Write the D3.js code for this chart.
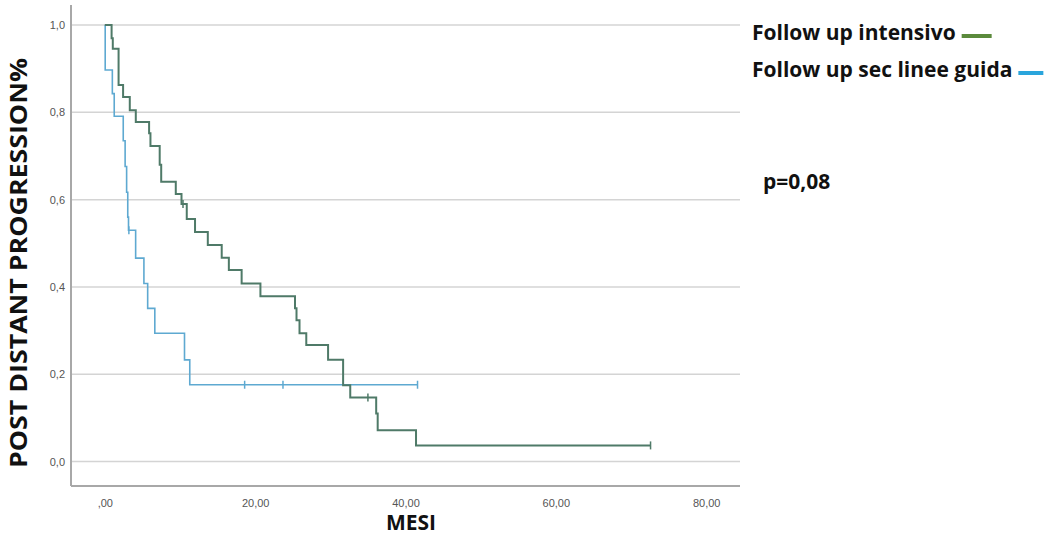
<!DOCTYPE html>
<html>
<head>
<meta charset="utf-8">
<script src="https://cdn.jsdelivr.net/npm/d3@7"></script>
<style>
  body { margin: 0; background: #fff; }
  svg { display: block; }
  .tick text { fill: #555; font-family: "Liberation Sans", Arial, sans-serif; font-size: 11px; }
  .lbl { font-family: "Open Sans", sans-serif; font-weight: bold; fill: #111; }
</style>
</head>
<body>
<svg id="chart" width="1051" height="535"></svg>
<script>
// ========= Data
// Follow up intensivo: [months, survival] at each step
const intensivoSteps = [
  [0, 1.0], [0.9, 0.97], [1.06, 0.946], [1.83, 0.863], [2.43, 0.835], [3.32, 0.805],
  [4.12, 0.778], [5.89, 0.752], [6.07, 0.723], [7.3, 0.68], [7.5, 0.641], [9.44, 0.613],
  [10.2, 0.59], [10.9, 0.556], [12.0, 0.526], [13.7, 0.496], [15.55, 0.467],
  [16.5, 0.439], [18.2, 0.408], [20.7, 0.379], [25.3, 0.351], [25.5, 0.324],
  [25.9, 0.294], [26.8, 0.267], [29.7, 0.233], [31.7, 0.175], [32.65, 0.147],
  [36.1, 0.11], [36.3, 0.072], [41.4, 0.037], [72.6, 0.037]
];
const intensivoCensored = [[10.4, 0.59], [35.0, 0.147], [72.6, 0.037]];

// Follow up sec linee guida
const lineeGuidaSteps = [
  [0, 1.0], [0.05, 0.897], [1.0, 0.843], [1.25, 0.791], [2.45, 0.735], [2.7, 0.676],
  [2.9, 0.617], [3.05, 0.56], [3.15, 0.53], [4.1, 0.466], [5.2, 0.408], [5.7, 0.351],
  [6.65, 0.294], [10.6, 0.233], [11.3, 0.176], [41.6, 0.176]
];
const lineeGuidaCensored = [[3.2, 0.53], [18.6, 0.176], [23.7, 0.176], [41.6, 0.176]];

const xTicks = [0, 20, 40, 60, 80];
const xTickLabels = [",00", "20,00", "40,00", "60,00", "80,00"];
const yTicks = [0, 0.2, 0.4, 0.6, 0.8, 1.0];
const yTickLabels = ["0,0", "0,2", "0,4", "0,6", "0,8", "1,0"];

const legendItems = [
  { label: "Follow up intensivo", color: "#5b8a3c", len: 30 },
  { label: "Follow up sec linee guida", color: "#2aa5dc", len: 25 }
];

// ========= Setup
const svg = d3.select("#chart");
const frame = { left: 71, right: 740, top: 5, bottom: 486 };

const x = d3.scaleLinear().domain([-4.5, 84.5]).range([frame.left, frame.right]);
const y = d3.scaleLinear().domain([-0.056, 1.046]).range([frame.bottom, frame.top]);

// gridlines
svg.append("g")
  .selectAll("line")
  .data(yTicks)
  .enter().append("line")
  .attr("x1", frame.left).attr("x2", frame.right)
  .attr("y1", d => y(d)).attr("y2", d => y(d))
  .attr("stroke", "#d4d4d4").attr("stroke-width", 1.5);

// axes
const xAxis = svg.append("g")
  .attr("transform", `translate(0,${frame.bottom})`)
  .call(d3.axisBottom(x).tickValues(xTicks).tickSize(0).tickPadding(13)
    .tickFormat((d, i) => xTickLabels[i]));
xAxis.select(".domain").remove();

const yAxis = svg.append("g")
  .attr("transform", `translate(${frame.left},0)`)
  .call(d3.axisLeft(y).tickValues(yTicks).tickSize(0).tickPadding(6)
    .tickFormat((d, i) => yTickLabels[i]));
yAxis.select(".domain").remove();

svg.append("line")
  .attr("x1", frame.left).attr("x2", frame.left)
  .attr("y1", frame.top).attr("y2", frame.bottom)
  .attr("stroke", "#a8a8a8").attr("stroke-width", 2);
svg.append("line")
  .attr("x1", frame.left).attr("x2", frame.right)
  .attr("y1", frame.bottom).attr("y2", frame.bottom)
  .attr("stroke", "#a8a8a8").attr("stroke-width", 2);

// ========= Curves
const step = d3.line()
  .x(d => x(d[0]))
  .y(d => y(d[1]))
  .curve(d3.curveStepAfter);

function drawCurve(steps, censored, color, width) {
  svg.append("path")
    .datum(steps)
    .attr("fill", "none")
    .attr("stroke", color)
    .attr("stroke-width", width)
    .attr("d", step);

  svg.append("g")
    .selectAll("line")
    .data(censored)
    .enter().append("line")
    .attr("x1", d => x(d[0])).attr("x2", d => x(d[0]))
    .attr("y1", d => y(d[1]) - 4).attr("y2", d => y(d[1]) + 4)
    .attr("stroke", color)
    .attr("stroke-width", 1.5);
}

drawCurve(lineeGuidaSteps, lineeGuidaCensored, "#5ea9d1", 1.6);
drawCurve(intensivoSteps, intensivoCensored, "#4f7a68", 2);

// ========= Labels
svg.append("text")
  .attr("class", "lbl")
  .attr("transform", "translate(27,263) rotate(-90)")
  .attr("text-anchor", "middle")
  .attr("font-size", 24)
  .attr("textLength", 410)
  .attr("lengthAdjust", "spacingAndGlyphs")
  .text("POST DISTANT PROGRESSION%");

svg.append("text")
  .attr("class", "lbl")
  .attr("x", 411).attr("y", 530)
  .attr("text-anchor", "middle")
  .attr("font-size", 21)
  .text("MESI");

svg.append("text")
  .attr("class", "lbl")
  .attr("x", 763).attr("y", 189)
  .attr("font-size", 21)
  .text("p=0,08");

// legend
const legend = svg.append("g").selectAll("g")
  .data(legendItems)
  .enter().append("g")
  .attr("transform", (d, i) => `translate(752,${40 + i * 37})`);

legend.append("text")
  .attr("class", "lbl")
  .attr("font-size", 21)
  .text(d => d.label)
  .each(function (d) {
    d.w = this.getComputedTextLength();
  });

legend.append("line")
  .attr("x1", d => d.w + 6).attr("x2", d => d.w + 6 + d.len)
  .attr("y1", -4).attr("y2", -4)
  .attr("stroke", d => d.color)
  .attr("stroke-width", 4);
</script>
</body>
</html>
